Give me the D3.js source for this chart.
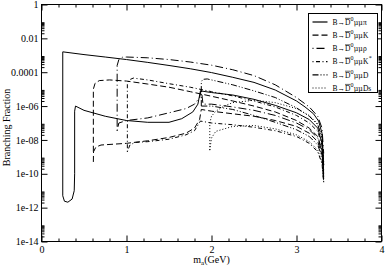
<!DOCTYPE html>
<html>
<head>
<meta charset="utf-8">
<script src="https://cdn.jsdelivr.net/npm/d3@7"></script>
<style>
  body { margin: 0; background: #fff; }
  text { font-family: "Liberation Serif", "DejaVu Serif", serif; }
</style>
</head>
<body>
<div id="chart"></div>
<script>
// axis ticks
var xTicks = [0, 1, 2, 3, 4];
var yTicks = [1, 1e-2, 1e-4, 1e-6, 1e-8, 1e-10, 1e-12, 1e-14];
var yTickLabels = ["1", "0.01", "0.0001", "1e-06", "1e-08", "1e-10", "1e-12", "1e-14"];

// legend
var particles = ["π", "K", "ρ", "K*", "D", "Ds"];

// each channel: upper and lower branch, [m_a (GeV), branching fraction]
var piUpper = [[0.25,1.6e-3],[0.5,1.1e-3],[0.75,7.9e-4],[1.0,5.6e-4],[1.25,3.8e-4],[1.5,2.5e-4],[1.75,1.6e-4],[2.0,9.5e-5],[2.25,5.0e-5],[2.5,2.5e-5],[2.75,8.9e-6],[3.0,2.0e-6],[3.1,8.9e-7],[3.2,3.5e-7],[3.26,1.3e-7],[3.3,2.5e-8],[3.32,3.2e-10]];
var piLower = [[0.25,1.6e-3],[0.25,5.0e-12],[0.27,2.4e-12],[0.31,2.1e-12],[0.36,3.2e-12],[0.385,1e-11],[0.39,1e-10],[0.39,5.0e-7],[0.40,1e-6],[0.5,5.6e-7],[0.75,2.5e-7],[1.0,1.4e-7],[1.25,1.1e-7],[1.5,1.1e-7],[1.65,1.8e-7],[1.78,4.5e-7],[1.84,1.3e-6],[1.87,7.9e-6],[2.0,6.3e-6],[2.25,4.5e-6],[2.5,2.5e-6],[2.75,1.1e-6],[3.0,4.0e-7],[3.15,1.6e-7],[3.25,5.0e-8],[3.3,6.3e-9],[3.32,6.3e-11]];

var kUpper = [[0.61,2.0e-9],[0.61,1e-5],[0.63,2.2e-5],[0.68,3.2e-5],[0.8,3.5e-5],[1.0,3.0e-5],[1.25,2.0e-5],[1.5,1.3e-5],[1.75,7.1e-6],[2.0,3.8e-6],[2.25,2.0e-6],[2.5,1e-6],[2.75,4.5e-7],[3.0,1.4e-7],[3.15,5.0e-8],[3.25,1.6e-8],[3.3,2.5e-9],[3.32,1e-10]];
var kLower = [[0.61,5.0e-10],[0.612,2.0e-9],[0.64,3.8e-9],[0.7,5.0e-9],[1.0,6.3e-9],[1.25,8.9e-9],[1.5,1.4e-8],[1.7,2.5e-8],[1.8,5.0e-8],[1.86,1.6e-7],[1.88,6.3e-7],[2.0,5.0e-7],[2.25,3.5e-7],[2.5,2.5e-7],[2.75,1.4e-7],[3.0,6.3e-8],[3.15,2.5e-8],[3.25,7.9e-9],[3.3,1.3e-9],[3.32,5.0e-11]];

var rhoUpper = [[0.89,3.5e-8],[0.89,2.5e-4],[0.91,5.6e-4],[0.95,7.6e-4],[1.0,7.9e-4],[1.25,7.1e-4],[1.5,5.6e-4],[1.75,4.0e-4],[2.0,2.6e-4],[2.25,1.4e-4],[2.5,6.3e-5],[2.75,1.8e-5],[3.0,3.2e-6],[3.15,8.9e-7],[3.25,2.5e-7],[3.3,5.0e-8],[3.32,1.6e-9]];
var rhoLower = [[0.89,3.5e-8],[0.91,1e-7],[1.0,1.4e-7],[1.25,2.0e-7],[1.5,4.0e-7],[1.7,7.1e-7],[1.8,1.3e-6],[1.86,3.2e-6],[1.88,1e-5],[1.9,1.3e-6],[2.0,1.3e-6],[2.25,8.9e-7],[2.5,5.6e-7],[2.75,2.8e-7],[3.0,1e-7],[3.15,4.0e-8],[3.25,1.3e-8],[3.3,2.0e-9],[3.32,1e-10]];

var kstUpper = [[1.01,2.0e-9],[1.01,2.0e-5],[1.03,3.5e-5],[1.08,4.5e-5],[1.25,3.5e-5],[1.5,2.1e-5],[1.75,1.3e-5],[2.0,7.1e-6],[2.25,4.0e-6],[2.5,2.0e-6],[2.75,8.9e-7],[3.0,2.8e-7],[3.15,1e-7],[3.25,3.2e-8],[3.3,5.0e-9],[3.32,1.6e-10]];
var kstLower = [[1.01,2.0e-9],[1.04,5.0e-9],[1.1,7.1e-9],[1.25,7.9e-9],[1.5,1.1e-8],[1.7,2.0e-8],[1.8,3.5e-8],[1.87,1.3e-7],[2.0,1e-7],[2.25,7.9e-8],[2.5,5.6e-8],[2.75,3.5e-8],[3.0,1.6e-8],[3.15,6.3e-9],[3.25,2.0e-9],[3.3,4.0e-10],[3.32,3.2e-11]];

var dUpper = [[1.88,1e-6],[1.88,2.8e-5],[1.9,3.8e-5],[1.95,4.0e-5],[2.0,3.5e-5],[2.25,1.8e-5],[2.5,7.9e-6],[2.75,3.2e-6],[3.0,7.9e-7],[3.15,2.5e-7],[3.25,7.9e-8],[3.3,1.3e-8],[3.32,3.2e-10]];
var dLower = [[1.88,1e-6],[2.0,1e-6],[2.25,6.3e-7],[2.5,2.8e-7],[2.75,1.1e-7],[3.0,4.0e-8],[3.15,1.6e-8],[3.25,5.0e-9],[3.3,1e-9],[3.32,3.2e-11]];

var dsUpper = [[1.98,2.5e-9],[1.98,1e-7],[2.0,2.5e-7],[2.05,5.0e-7],[2.15,1e-6],[2.25,1.6e-6],[2.5,2.2e-6],[2.75,1.6e-6],[3.0,7.1e-7],[3.15,2.8e-7],[3.25,8.9e-8],[3.3,1.6e-8],[3.32,5.0e-10]];
var dsLower = [[1.98,2.5e-9],[2.0,1.3e-8],[2.05,3.2e-8],[2.25,6.3e-8],[2.5,7.1e-8],[2.75,4.5e-8],[3.0,2.0e-8],[3.15,7.9e-9],[3.25,2.5e-9],[3.3,5.0e-10],[3.32,3.2e-11]];

var channels = [
  {branches: [piUpper, piLower], dash: null},
  {branches: [kUpper, kLower], dash: "6,3"},
  {branches: [rhoUpper, rhoLower], dash: "1,3,8,3"},
  {branches: [kstUpper, kstLower], dash: "1,2.5,4,2.5"},
  {branches: [dUpper, dLower], dash: "6,2,1,2,1,2"},
  {branches: [dsUpper, dsLower], dash: "1,2"}
];

var W = 385, H = 267;
var margin = {top: 4.5, right: 3.5, bottom: 25.5, left: 41.5};
var width = W - margin.left - margin.right,
    height = H - margin.top - margin.bottom;

var svg = d3.select("#chart").append("svg")
    .attr("width", W)
    .attr("height", H)
  .append("g")
    .attr("transform", "translate(" + margin.left + "," + margin.top + ")");

var x = d3.scaleLinear().domain([0, 4]).range([0, width]);
var y = d3.scaleLog().domain([1e-14, 1]).range([height, 0]);

// minor ticks
var xMinor = d3.range(0, 4.001, 0.2).filter(function(v) { return Math.abs(v - Math.round(v)) > 0.01; });
var yMinor = [];
for (var e = -14; e < 0; e += 2) {
  for (var k = 2; k <= 9; k++) yMinor.push(k * Math.pow(10, e));
}

function styleAxis(g) {
  g.select(".domain").remove();
  g.selectAll("line").attr("stroke", "#000");
  g.selectAll("text").attr("font-size", "10px").attr("fill", "#000")
    .style("font-family", "'Liberation Serif', serif");
}

// bottom
svg.append("g").attr("transform", "translate(0," + height + ")")
  .call(d3.axisBottom(x).tickValues(xTicks).tickSizeInner(-6).tickSizeOuter(0).tickPadding(4).tickFormat(d3.format("d")))
  .call(styleAxis);
svg.append("g").attr("transform", "translate(0," + height + ")")
  .call(d3.axisBottom(x).tickValues(xMinor).tickSize(-3).tickFormat(""))
  .call(styleAxis);
// top
svg.append("g")
  .call(d3.axisTop(x).tickValues(xTicks).tickSize(-6).tickFormat(""))
  .call(styleAxis);
svg.append("g")
  .call(d3.axisTop(x).tickValues(xMinor).tickSize(-3).tickFormat(""))
  .call(styleAxis);
// left
svg.append("g")
  .call(d3.axisLeft(y).tickValues(yTicks).tickSizeInner(-6).tickSizeOuter(0).tickPadding(3)
    .tickFormat(function(d, i) { return yTickLabels[i]; }))
  .call(styleAxis);
svg.append("g")
  .call(d3.axisLeft(y).tickValues(yMinor).tickSize(-3).tickFormat(""))
  .call(styleAxis);
// right
svg.append("g").attr("transform", "translate(" + width + ",0)")
  .call(d3.axisRight(y).tickValues(yTicks).tickSize(-6).tickFormat(""))
  .call(styleAxis);
svg.append("g").attr("transform", "translate(" + width + ",0)")
  .call(d3.axisRight(y).tickValues(yMinor).tickSize(-3).tickFormat(""))
  .call(styleAxis);

// frame
svg.append("rect")
  .attr("width", width).attr("height", height)
  .attr("fill", "none").attr("stroke", "#000").attr("stroke-width", 1);

// curves
var line = d3.line()
  .x(function(d) { return x(d[0]); })
  .y(function(d) { return y(d[1]); });

channels.forEach(function(c) {
  c.branches.forEach(function(b) {
    svg.append("path")
      .datum(b)
      .attr("d", line)
      .attr("fill", "none")
      .attr("stroke", "#000")
      .attr("stroke-width", 1)
      .attr("stroke-dasharray", c.dash);
  });
});

// axis titles
var xt = svg.append("text")
  .attr("x", width / 2)
  .attr("y", height + 21)
  .attr("text-anchor", "middle")
  .attr("font-size", "10px");
xt.append("tspan").text("m");
xt.append("tspan").attr("font-size", "7px").attr("dy", 2).text("a");
xt.append("tspan").attr("dy", -2).text("(GeV)");

svg.append("text")
  .attr("transform", "rotate(-90)")
  .attr("x", -123)
  .attr("y", -32)
  .attr("text-anchor", "middle")
  .attr("font-size", "10px")
  .text("Branching Fraction");

// legend
var leg = svg.append("g").attr("transform", "translate(267,9)");
leg.append("rect")
  .attr("width", 69).attr("height", 79)
  .attr("fill", "#fff").attr("stroke", "#000").attr("stroke-width", 1);

particles.forEach(function(p, i) {
  var ly = 8.5 + i * 13.2;
  leg.append("line")
    .attr("x1", 4).attr("x2", 19).attr("y1", ly).attr("y2", ly)
    .attr("stroke", "#000").attr("stroke-width", 1.2)
    .attr("stroke-dasharray", channels[i].dash);
  // pieces laid out one after another
  var cx = 24;
  var a = leg.append("text").attr("x", cx).attr("y", ly + 2.8)
    .attr("font-size", "7.5px").attr("fill", "#000").text("B\u2192D");
  var dStart = a.node().getStartPositionOfChar(2).x,
      dEnd = a.node().getEndPositionOfChar(2).x;
  cx += a.node().getComputedTextLength();
  leg.append("line")
    .attr("x1", dStart).attr("x2", dEnd)
    .attr("y1", ly - 3.6).attr("y2", ly - 3.6)
    .attr("stroke", "#000").attr("stroke-width", 0.6);
  var sup = leg.append("text").attr("x", cx + 0.2).attr("y", ly - 1.2)
    .attr("font-size", "6px").attr("fill", "#000").text("0");
  cx += sup.node().getComputedTextLength() + 0.4;
  var mu = leg.append("text").attr("x", cx).attr("y", ly + 2.8)
    .attr("font-size", "7px").attr("fill", "#000")
    .style("font-family", "'DejaVu Serif', serif")
    .text("\u03bc\u03bc");
  cx += mu.node().getComputedTextLength();
  var rest = leg.append("text").attr("x", cx).attr("y", ly + 2.8)
    .attr("font-size", "7.5px").attr("fill", "#000")
    .text(p.replace("*", ""));
  cx += rest.node().getComputedTextLength();
  if (p.indexOf("*") >= 0) {
    leg.append("text").attr("x", cx + 0.3).attr("y", ly - 1.2)
      .attr("font-size", "6px").attr("fill", "#000").text("*");
  }
});
</script>
</body>
</html>
